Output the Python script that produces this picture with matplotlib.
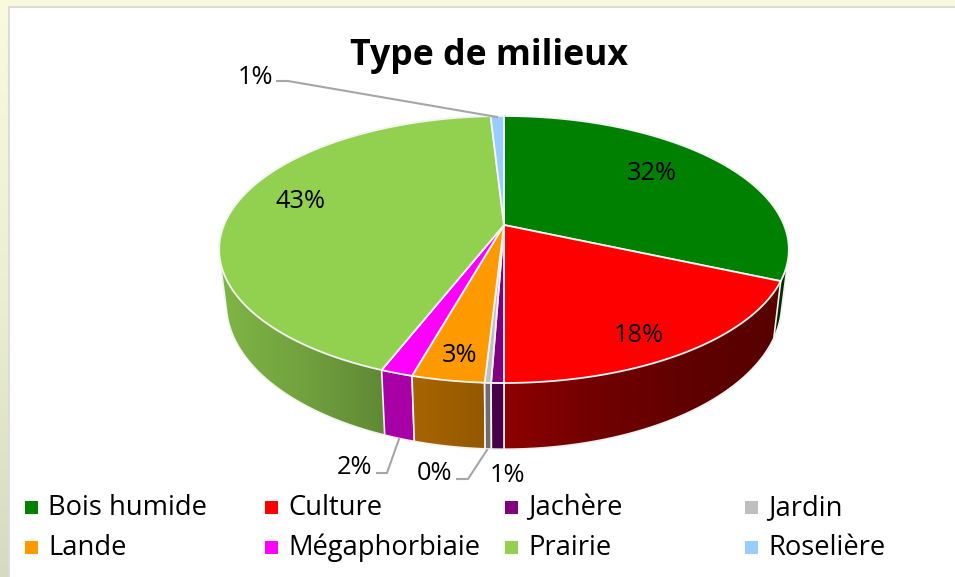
import numpy as np
import matplotlib
matplotlib.use("Agg")
import matplotlib.pyplot as plt
from matplotlib.patches import Polygon, Rectangle

plt.rcParams['font.family'] = ['Open Sans', 'DejaVu Sans']

title = "Type de milieux"
categories = ["Bois humide", "Culture", "Jachère", "Jardin",
              "Lande", "Mégaphorbiaie", "Prairie", "Roselière"]
values = [31.6, 18.4, 0.6, 0.3, 3.46, 1.54, 43.2, 0.9]
labels = ["32%", "18%", "1%", "0%", "3%", "2%", "43%", "1%"]
colours = ["#008000", "#ff0000", "#800080", "#bfbfbf",
           "#ff9900", "#ff00ff", "#92d050", "#99ccff"]

# where each percentage sits (px)
label_pos = [(652, 174), (639, 336), (507, 475), (434, 474),
             (460, 356), (354, 468), (300, 201), (255, 77)]
leaders = [[(277, 81), (288, 81), (497, 117)],
           [(377, 473), (387, 473), (399, 439)],
           [(457, 479), (468, 479), (487, 450)]]

# perspective of the pie, top disc and bottom disc
persp = 0.1835
top_disc = (504, 225, 280, 129)
bot_disc = (504, 277, 273, 140.6)


def project(disc, angle):
    cx, cy, a, b = disc
    u, v = np.sin(angle), np.cos(angle)
    d = 1 + persp * v
    return cx + a * u / d, cy - b * v / d


def arc(disc, a0, a1):
    n = max(int(np.degrees(a1 - a0)), 2) + 1
    x, y = project(disc, np.linspace(a0, a1, n))
    return np.column_stack([x, y])


def hull(pts):
    # wall outline must follow the tangent between both discs
    pts = sorted(map(tuple, pts))

    def half(seq):
        out = []
        for p in seq:
            while len(out) > 1 and ((out[-1][0] - out[-2][0]) * (p[1] - out[-2][1])
                                    - (out[-1][1] - out[-2][1]) * (p[0] - out[-2][0])) <= 0:
                out.pop()
            out.append(p)
        return out[:-1]
    return np.array(half(pts) + half(pts[::-1]))


def side_shade(i, x):
    # side walls get darker from left to right
    if i == 1:
        return np.interp(x, [500, 600, 700, 790], [0.56, 0.44, 0.37, 0.34])
    return np.interp(x, [220, 300, 380, 420, 500, 790], [0.87, 0.78, 0.66, 0.65, 0.56, 0.34])


fig = plt.figure(figsize=(9.55, 5.77), dpi=100)
ax = fig.add_axes([0, 0, 1, 1])
ax.set_xlim(0, 955)
ax.set_ylim(577, 0)
ax.axis('off')

# page behind the chart, paler at the top, greyer at the bottom
ys = np.arange(0, 577)
page = np.column_stack([np.interp(ys, [0, 300, 577], [250, 235, 214]),
                        np.interp(ys, [0, 300, 577], [251, 238, 218]),
                        np.interp(ys, [0, 300, 577], [222, 208, 192])]) / 255
ax.imshow(page[:, None, :], extent=(0, 955, 577, 0), aspect='auto', zorder=0)
ax.add_patch(Rectangle((9, 6.5), 960, 600, fc='white', ec='#dcdcdc', lw=1.5, zorder=1))

edges = np.cumsum([0] + values) / sum(values) * 2 * np.pi
order = sorted(range(len(values)),
               key=lambda i: -abs((edges[i] + edges[i + 1]) / 2 - np.pi))

# walls, furthest slice first
gx = np.arange(200, 800)
for k, i in enumerate(order):
    pts = hull(np.vstack([arc(top_disc, edges[i], edges[i + 1]),
                          arc(bot_disc, edges[i], edges[i + 1])]))
    wall = Polygon(pts, fc='none', ec='none', transform=ax.transData)
    ax.add_patch(wall)
    rgb = np.array(matplotlib.colors.to_rgb(colours[i]))
    grad = (side_shade(i, gx)[:, None] * rgb)[None, :, :]
    im = ax.imshow(grad, extent=(200, 800, 470, 100), aspect='auto', zorder=2 + k * 0.01)
    im.set_clip_path(wall)
    ax.add_patch(Polygon(pts, fc='none', ec='#f2f2f2', lw=1.2, zorder=2.005 + k * 0.01))

ax.set_xlim(0, 955)
ax.set_ylim(577, 0)

# top of the pie
for i in range(len(values)):
    pts = np.vstack([[project(top_disc, 0)[0], top_disc[1]],
                     arc(top_disc, edges[i], edges[i + 1])])
    ax.add_patch(Polygon(pts, fc=colours[i], ec='#f4f4f4', lw=1.3,
                         joinstyle='round', zorder=4))

for path in leaders:
    xs, ys = zip(*path)
    ax.plot(xs, ys, color='#a6a6a6', lw=1.5, zorder=5)

for (x, y), txt in zip(label_pos, labels):
    ax.text(x, y, txt, fontsize=18.3, color='black', ha='center', va='center', zorder=6)

ax.text(489, 56, title, fontsize=25.7, fontweight='bold', color='black',
        ha='center', va='center', zorder=6)

# legend, four equal columns
for i, name in enumerate(categories):
    col, row = i % 4, i // 4
    x = 25 + col * 240
    y = 507 + row * 40
    ax.add_patch(Rectangle((x, y - 6.5), 13, 13, fc=colours[i], ec='none', zorder=6))
    ax.text(x + 23, y + 1, name, fontsize=19.7, color='black', ha='left', va='center', zorder=6)

fig.savefig('out.png', dpi=100)
